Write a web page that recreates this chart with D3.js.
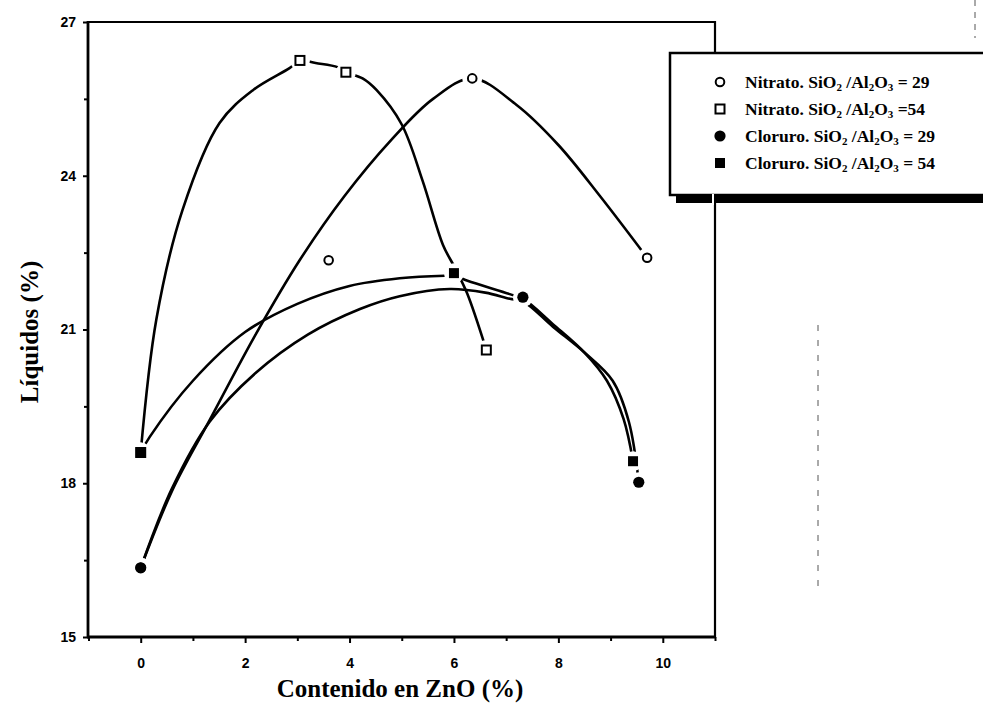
<!DOCTYPE html>
<html><head><meta charset="utf-8">
<script src="https://cdn.jsdelivr.net/npm/d3@7"></script>
<style>body{margin:0;background:#fff}svg{display:block}</style>
</head><body><svg id="chart" width="983" height="707"></svg>
<script>
// ---- data ----
const xTicks = [0, 2, 4, 6, 8, 10];
const xMinor = [-1, 1, 3, 5, 7, 9, 11];
const yTicks = [15, 18, 21, 24, 27];
const yMinor = [16.5, 19.5, 22.5, 25.5];
const xLabel = "Contenido en ZnO (%)";
const yLabel = "Líquidos (%)";

// markers
const nitrato29X = [0, 3.6, 6.35, 9.7];
const nitrato29Y = [16.35, 22.35, 25.9, 22.4];
const nitrato54X = [0, 3.05, 3.93, 6.62];
const nitrato54Y = [18.6, 26.25, 26.02, 20.6];
const cloruro29X = [0, 7.32, 9.54];
const cloruro29Y = [16.35, 21.63, 18.02];
const cloruro54X = [0, 6.0, 9.43];
const cloruro54Y = [18.6, 22.1, 18.43];

// fitted curves
const nitrato29FitX = [0, 0.6, 1.32, 2.2, 3.05, 3.9, 4.8, 5.6, 6.35, 7.2, 8.0, 8.8, 9.7];
const nitrato29FitY = [16.35, 17.85, 19.23, 20.9, 22.36, 23.6, 24.7, 25.5, 25.9, 25.38, 24.6, 23.6, 22.4];
const nitrato54FitX = [0, 0.3, 0.8, 1.51, 2.15, 2.85, 3.05, 3.35, 3.77, 3.93, 4.25, 4.52, 5.0, 5.4, 5.79, 6.02, 6.25, 6.62];
const nitrato54FitY = [18.6, 21.2, 23.33, 25.03, 25.67, 26.1, 26.25, 26.2, 26.12, 26.02, 25.9, 25.67, 25.0, 23.9, 22.65, 22.2, 21.71, 20.6];
const cloruro29FitX = [0, 0.6, 1.32, 2.2, 3.2, 4.2, 4.96, 5.92, 6.6, 7.07, 7.32, 7.9, 8.5, 9.04, 9.35, 9.54];
const cloruro29FitY = [16.35, 17.9, 19.2, 20.15, 20.9, 21.4, 21.65, 21.79, 21.72, 21.6, 21.55, 21.05, 20.55, 20.0, 19.2, 18.02];
const cloruro54FitX = [0, 0.17, 1.0, 2.0, 3.0, 4.0, 4.96, 5.82, 6.0, 6.26, 7.07, 7.32, 7.9, 8.5, 8.93, 9.25, 9.43];
const cloruro54FitY = [18.6, 18.9, 20.0, 20.95, 21.5, 21.85, 22.0, 22.05, 22.05, 21.95, 21.69, 21.6, 21.1, 20.55, 20.0, 19.25, 18.43];

const legendLabels = [
  ["Nitrato. SiO", "2", " /Al", "2", "O", "3", " = 29"],
  ["Nitrato. SiO", "2", " /Al", "2", "O", "3", " =54"],
  ["Cloruro. SiO", "2", " /Al", "2", "O", "3", " = 29"],
  ["Cloruro. SiO", "2", " /Al", "2", "O", "3", " = 54"]
];
const legendSymbols = ["circleOpen", "squareOpen", "circleFilled", "squareFilled"];

// ---- drawing ----
const svg = d3.select("#chart");
const x = d3.scaleLinear().domain([-1, 11]).range([88.5, 715]);
const y = d3.scaleLinear().domain([15, 27]).range([637, 22]);
const zip = (a, b) => a.map((v, i) => [v, b[i]]);
const line = d3.line().x(d => x(d[0])).y(d => y(d[1])).curve(d3.curveCatmullRom.alpha(0.5));

const fits = [
  zip(nitrato29FitX, nitrato29FitY),
  zip(nitrato54FitX, nitrato54FitY),
  zip(cloruro29FitX, cloruro29FitY),
  zip(cloruro54FitX, cloruro54FitY)
];
svg.append("g").selectAll("path").data(fits).join("path")
  .attr("d", line).attr("fill", "none").attr("stroke", "#000").attr("stroke-width", 2.6)
  .attr("stroke-linecap", "round");

const markerSets = [
  {pts: zip(nitrato29X, nitrato29Y), sym: "circleOpen"},
  {pts: zip(nitrato54X, nitrato54Y), sym: "squareOpen"},
  {pts: zip(cloruro29X, cloruro29Y), sym: "circleFilled"},
  {pts: zip(cloruro54X, cloruro54Y), sym: "squareFilled"}
];
// white halos to make gaps in the curves around the markers
const halos = svg.append("g");
markerSets.forEach(s => s.pts.forEach(p => {
  halos.append("circle").attr("cx", x(p[0])).attr("cy", y(p[1])).attr("r", 10).attr("fill", "#fff");
}));

function drawSymbol(g, sym, cx, cy) {
  if (sym === "circleOpen") g.append("circle").attr("cx", cx).attr("cy", cy).attr("r", 4.3).attr("fill", "#fff").attr("stroke", "#000").attr("stroke-width", 2);
  if (sym === "circleFilled") g.append("circle").attr("cx", cx).attr("cy", cy).attr("r", 5.6).attr("fill", "#000");
  if (sym === "squareOpen") g.append("rect").attr("x", cx - 4.5).attr("y", cy - 4.5).attr("width", 9).attr("height", 9).attr("fill", "#fff").attr("stroke", "#000").attr("stroke-width", 2);
  if (sym === "squareFilled") g.append("rect").attr("x", cx - 5).attr("y", cy - 5).attr("width", 10).attr("height", 10).attr("fill", "#000");
}
const mk = svg.append("g");
markerSets.forEach(s => s.pts.forEach(p => drawSymbol(mk, s.sym, x(p[0]), y(p[1]))));

// frame
const fr = svg.append("g").attr("stroke", "#000").attr("fill", "none");
fr.append("line").attr("x1", 88).attr("x2", 88).attr("y1", 21).attr("y2", 638).attr("stroke-width", 2.8);
fr.append("line").attr("x1", 87).attr("x2", 716).attr("y1", 637).attr("y2", 637).attr("stroke-width", 2.8);
fr.append("line").attr("x1", 87).attr("x2", 716).attr("y1", 22).attr("y2", 22).attr("stroke-width", 2.2);
fr.append("line").attr("x1", 715).attr("x2", 715).attr("y1", 21).attr("y2", 638).attr("stroke-width", 2.2);

// axes
const tickFont = g => g.selectAll("text").attr("font-family", "'Liberation Sans', Arial, sans-serif").attr("font-weight", "bold").attr("font-size", 14).attr("fill", "#000");
const ya = svg.append("g").attr("transform", "translate(88,0)")
  .call(d3.axisLeft(y).tickValues(yTicks).tickSize(5).tickPadding(7).tickFormat(d3.format("d")));
ya.select(".domain").remove(); ya.selectAll("line").attr("stroke-width", 2); tickFont(ya);
const ym = svg.append("g").attr("transform", "translate(88,0)")
  .call(d3.axisLeft(y).tickValues(yMinor).tickSize(4).tickFormat(""));
ym.select(".domain").remove(); ym.selectAll("line").attr("stroke-width", 2);

const xa = svg.append("g").attr("transform", "translate(0,637)")
  .call(d3.axisBottom(x).tickValues(xTicks).tickSize(6).tickPadding(15).tickFormat(d3.format("d")));
xa.select(".domain").remove(); xa.selectAll("line").attr("stroke-width", 2); tickFont(xa);
const xm = svg.append("g").attr("transform", "translate(0,637)")
  .call(d3.axisBottom(x).tickValues(xMinor).tickSize(4).tickFormat(""));
xm.select(".domain").remove(); xm.selectAll("line").attr("stroke-width", 2);

// axis titles
svg.append("text").attr("x", 400).attr("y", 697).attr("text-anchor", "middle")
  .attr("font-family", "'Liberation Serif', 'Times New Roman', serif").attr("font-weight", "bold").attr("font-size", 25).text(xLabel);
svg.append("text").attr("transform", "translate(38,332) rotate(-90)").attr("text-anchor", "middle")
  .attr("font-family", "'Liberation Serif', 'Times New Roman', serif").attr("font-weight", "bold").attr("font-size", 25).text(yLabel);

// legend
const lg = svg.append("g");
lg.append("rect").attr("x", 676).attr("y", 195).attr("width", 320).attr("height", 8).attr("fill", "#000");
lg.append("rect").attr("x", 670).attr("y", 53).attr("width", 330).attr("height", 142).attr("fill", "#fff").attr("stroke", "#000").attr("stroke-width", 2.5);
lg.append("line").attr("x1", 713).attr("x2", 713).attr("y1", 194).attr("y2", 205).attr("stroke", "#fff").attr("stroke-width", 2);
legendLabels.forEach((parts, i) => {
  const cy = 82 + i * 27;
  drawSymbol(lg, legendSymbols[i], 720, cy);
  const t = lg.append("text").attr("x", 745).attr("y", cy + 6)
    .attr("font-family", "'Liberation Serif', 'Times New Roman', serif").attr("font-weight", "bold").attr("font-size", 17.5);
  parts.forEach((p, k) => {
    const sub = (k % 2 === 1);
    t.append("tspan").attr("baseline-shift", sub ? "-25%" : null).attr("font-size", sub ? 11 : null).text(p);
  });
});

// faint scan marks
svg.append("line").attr("x1", 818).attr("x2", 818).attr("y1", 325).attr("y2", 595).attr("stroke", "#555").attr("stroke-width", 1).attr("stroke-dasharray", "6,9");
svg.append("line").attr("x1", 975).attr("x2", 975).attr("y1", 0).attr("y2", 38).attr("stroke", "#555").attr("stroke-width", 1).attr("stroke-dasharray", "6,6");
</script></body></html>
